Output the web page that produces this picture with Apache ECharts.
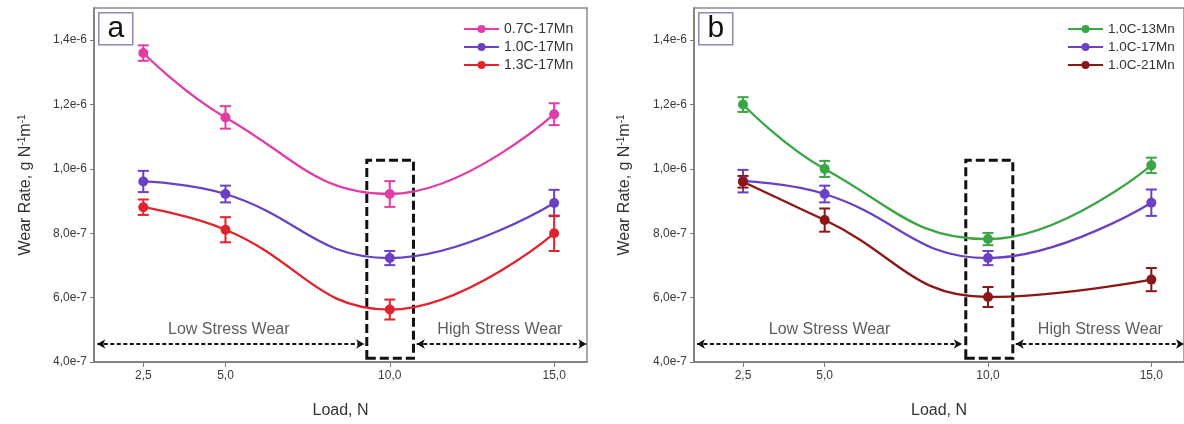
<!DOCTYPE html>
<html>
<head>
<meta charset="utf-8">
<script src="https://cdn.jsdelivr.net/npm/echarts@6/dist/echarts.min.js"></script>
<style>
html,body{margin:0;padding:0;background:#fff;}
#chart{width:1184px;height:424px;}
</style>
</head>
<body>
<div id="chart"></div>
<script>
// ---------- data ----------
const loads = [2.5, 5.0, 10.0, 15.0];

// panel a
const a07C17Mn    = [1.36e-6, 1.16e-6, 9.22e-7, 1.17e-6];
const a07C17MnErr = [2.4e-8, 3.5e-8, 4.0e-8, 3.4e-8];
const a10C17Mn    = [9.61e-7, 9.22e-7, 7.23e-7, 8.94e-7];
const a10C17MnErr = [3.3e-8, 2.6e-8, 2.2e-8, 4.1e-8];
const a13C17Mn    = [8.81e-7, 8.11e-7, 5.63e-7, 8.0e-7];
const a13C17MnErr = [2.4e-8, 3.9e-8, 3.1e-8, 5.5e-8];

// panel b
const b10C13Mn    = [1.2e-6, 1.0e-6, 7.82e-7, 1.011e-6];
const b10C13MnErr = [2.3e-8, 2.5e-8, 1.9e-8, 2.4e-8];
const b10C17Mn    = [9.62e-7, 9.22e-7, 7.23e-7, 8.95e-7];
const b10C17MnErr = [3.5e-8, 2.6e-8, 2.2e-8, 4.1e-8];
const b10C21Mn    = [9.6e-7, 8.41e-7, 6.02e-7, 6.56e-7];
const b10C21MnErr = [1.8e-8, 3.6e-8, 3.1e-8, 3.6e-8];

const namesA = ['0.7C-17Mn', '1.0C-17Mn', '1.3C-17Mn'];
const namesB = ['1.0C-13Mn', '1.0C-17Mn', '1.0C-21Mn'];
const colorsA = ['#e23ca5', '#6a40c4', '#e3232b'];
const colorsB = ['#3aa646', '#6a40c4', '#8c1616'];

// axes
const xTicks = [2.5, 5, 10, 15];
const xTickLabels = ['2,5', '5,0', '10,0', '15,0'];
const yTicks = [4e-7, 6e-7, 8e-7, 1e-6, 1.2e-6, 1.4e-6];
const yTickLabels = ['4,0e-7', '6,0e-7', '8,0e-7', '1,0e-6', '1,2e-6', '1,4e-6'];

// annotations (data coordinates)
const boxA = [[9.3, 4.12e-7], [10.72, 1.027e-6]];
const boxB = [[9.32, 4.12e-7], [10.76, 1.027e-6]];
const arrowY = 4.56e-7;
const lowArrowA = [1.1, 9.22], highArrowA = [10.82, 15.98];
const lowArrowB = [1.09, 9.2], highArrowB = [10.85, 16.0];
const regionLabels = ['Low Stress Wear', 'High Stress Wear'];
const regionLabelY = 5.0e-7;
const regionLabelXA = [5.1, 13.35];
const regionLabelXB = [5.15, 13.44];
const panelLetters = ['a', 'b'];

// ---------- chart ----------
const FONT = '"Liberation Sans", Arial, sans-serif';
const chart = echarts.init(document.getElementById('chart'), null, {renderer: 'canvas'});

function pairs(xs, ys) { return xs.map((x, i) => [x, ys[i]]); }
function triples(xs, ys, es) { return xs.map((x, i) => [x, ys[i], es[i]]); }
function nearestLabel(v, ticks, labels) {
  let best = 0, d = Infinity;
  ticks.forEach((t, i) => { const dd = Math.abs(t - v); if (dd < d) { d = dd; best = i; } });
  return d < 1e-3 * Math.abs(ticks[1] - ticks[0]) + 1e-12 ? labels[best] : '';
}

function errRender(params, api) {
  const x = api.value(0), y = api.value(1), e = api.value(2);
  const top = api.coord([x, y + e]);
  const bot = api.coord([x, y - e]);
  const w = 5.5;
  const style = {stroke: api.visual('color'), lineWidth: 2, fill: null};
  return {
    type: 'group',
    children: [
      {type: 'line', shape: {x1: top[0], y1: top[1], x2: bot[0], y2: bot[1]}, style: style},
      {type: 'line', shape: {x1: top[0] - w, y1: top[1], x2: top[0] + w, y2: top[1]}, style: style},
      {type: 'line', shape: {x1: bot[0] - w, y1: bot[1], x2: bot[0] + w, y2: bot[1]}, style: style}
    ]
  };
}

const grids = [
  {left: 94, top: 8, width: 493, height: 355},
  {left: 694, top: 8, width: 494, height: 356}
];

function xAxisFor(i) {
  return {
    type: 'value', gridIndex: i, min: 1, max: 16,
    name: 'Load, N', nameLocation: 'middle', nameGap: 41,
    nameTextStyle: {fontFamily: FONT, fontSize: 16, color: '#333'},
    axisLine: {show: true, lineStyle: {color: '#7a7a7a', width: 1.5}},
    axisTick: {show: true, inside: false, length: 5, customValues: xTicks, lineStyle: {color: '#7a7a7a'}},
    axisLabel: {show: true, margin: 8, customValues: xTicks, fontFamily: FONT, fontSize: 12, color: '#3a3a3a',
      formatter: v => nearestLabel(v, xTicks, xTickLabels)},
    splitLine: {show: false}
  };
}
function yAxisFor(i, gap) {
  return {
    type: 'value', gridIndex: i, min: 4e-7, max: 1.5e-6,
    name: 'Wear Rate, g N{sup|-1}m{sup|-1}', nameLocation: 'middle', nameGap: gap, nameRotate: 90,
    nameTextStyle: {fontFamily: FONT, fontSize: 16, color: '#333',
      rich: {sup: {fontFamily: FONT, fontSize: 10, color: '#333', verticalAlign: 'top', padding: [0, 0, 7, 0]}}},
    axisLine: {show: true, lineStyle: {color: '#7a7a7a', width: 1.5}},
    axisTick: {show: true, inside: false, length: 4, customValues: yTicks, lineStyle: {color: '#7a7a7a'}},
    axisLabel: {show: true, margin: 7, customValues: yTicks, fontFamily: FONT, fontSize: 12, color: '#3a3a3a',
      formatter: v => nearestLabel(v, yTicks, yTickLabels)},
    splitLine: {show: false}
  };
}

function lineSeries(name, color, ys, gi) {
  return {
    type: 'line', name: name, xAxisIndex: gi, yAxisIndex: gi,
    data: pairs(loads, ys), smooth: 0.45,
    symbol: 'circle', symbolSize: 10, showSymbol: true,
    itemStyle: {color: color},
    lineStyle: {color: color, width: 2.3},
    z: 3, silent: true, animation: false
  };
}
function errSeries(name, color, ys, es, gi) {
  return {
    type: 'custom', name: name + ' err', xAxisIndex: gi, yAxisIndex: gi,
    data: triples(loads, ys, es), renderItem: errRender,
    itemStyle: {color: color}, z: 2, silent: true, animation: false
  };
}
function annotSeries(gi, box, lowArr, highArr, labelXs) {
  return [{
    type: 'line', name: 'annot' + gi, xAxisIndex: gi, yAxisIndex: gi, data: [],
    silent: true, animation: false,
    markArea: {
      silent: true,
      itemStyle: {color: 'rgba(0,0,0,0)', borderColor: '#111', borderWidth: 3, borderType: [9, 4]},
      label: {show: false},
      data: [[{coord: box[0]}, {coord: box[1]}]]
    },
    markLine: {
      silent: true, symbol: ['arrow', 'arrow'], symbolSize: [7, 8],
      label: {show: false},
      lineStyle: {color: '#111', width: 2, type: [4, 2.5]},
      emphasis: {disabled: true},
      data: [
        [{coord: [lowArr[0], arrowY]}, {coord: [lowArr[1], arrowY]}],
        [{coord: [highArr[0], arrowY]}, {coord: [highArr[1], arrowY]}]
      ]
    }
  }, {
    type: 'scatter', name: 'labels' + gi, xAxisIndex: gi, yAxisIndex: gi,
    symbolSize: 0, silent: true, animation: false,
    data: regionLabels.map((t, i) => ({name: t, value: [labelXs[i], regionLabelY]})),
    label: {show: true, position: 'inside', formatter: '{b}', fontFamily: FONT, fontSize: 16, color: '#333'}
  }];
}

const series = [];
[a07C17Mn, a10C17Mn, a13C17Mn].forEach((ys, i) => {
  const es = [a07C17MnErr, a10C17MnErr, a13C17MnErr][i];
  series.push(errSeries(namesA[i] + 'a', colorsA[i], ys, es, 0));
  series.push(lineSeries(namesA[i], colorsA[i], ys, 0));
});
[b10C13Mn, b10C17Mn, b10C21Mn].forEach((ys, i) => {
  const es = [b10C13MnErr, b10C17MnErr, b10C21MnErr][i];
  series.push(errSeries(namesB[i] + 'b', colorsB[i], ys, es, 1));
  series.push(lineSeries(namesB[i], colorsB[i], ys, 1));
});
series.push(...annotSeries(0, boxA, lowArrowA, highArrowA, regionLabelXA));
series.push(...annotSeries(1, boxB, lowArrowB, highArrowB, regionLabelXB));

function legendFor(names, left, size) {
  return {
    data: names, orient: 'vertical', left: left, top: 22, padding: 0,
    itemWidth: 35, itemHeight: 10, itemGap: 4, selectedMode: false,
    textStyle: {fontFamily: FONT, fontSize: size, color: '#333'}
  };
}

function letterBox(letter, x) {
  return {
    type: 'group', left: x, top: 12,
    children: [
      {type: 'rect', shape: {x: 0, y: 0, width: 34, height: 32},
        style: {fill: '#fff', stroke: '#8a8ab4', lineWidth: 1.5}},
      {type: 'text', x: 17, y: 16, style: {text: letter, fontFamily: FONT, fontSize: 30,
        fill: '#111', align: 'center', verticalAlign: 'middle'}}
    ]
  };
}

chart.setOption({
  animation: false,
  backgroundColor: '#fff',
  grid: grids.map(g => Object.assign({show: true, borderColor: '#8a8a8a', borderWidth: 1.5,
    backgroundColor: 'rgba(0,0,0,0)'}, g)),
  xAxis: [xAxisFor(0), xAxisFor(1)],
  yAxis: [yAxisFor(0, 60), yAxisFor(1, 61)],
  legend: [legendFor(namesA, 463, 14), legendFor(namesB, 1067, 13.5)],
  graphic: [letterBox(panelLetters[0], 98), letterBox(panelLetters[1], 698)],
  series: series
});
</script>
</body>
</html>
